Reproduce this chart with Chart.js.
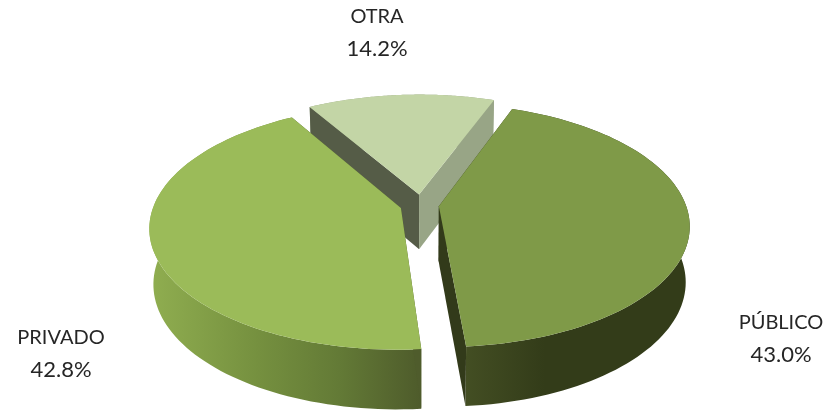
<!DOCTYPE html>
<html>
<head>
<meta charset="utf-8">
<style>
  html, body { margin: 0; padding: 0; background: #fff; }
  #wrap { position: relative; width: 837px; height: 410px; }
</style>
<script src="https://cdn.jsdelivr.net/npm/chart.js@4"></script>
</head>
<body>
<div id="wrap"><canvas id="pie"></canvas></div>
<script>
// Chart data
const categories = ['PÚBLICO', 'PRIVADO', 'OTRA'];
const shares = [43.0, 42.8, 14.2];

// Look of each slice, same order as categories
const topColors = ['#7f9a48', '#9bbb59', '#c3d5a6'];
const startFaceColors = ['#323a1a', '#4f5c2c', '#555c47'];
const endFaceColors = ['#323a1a', '#4f5c2c', '#98a586'];
const wallStops = [
    [[0, '#434e23'], [0.35, '#333c19'], [1, '#333c19']],
    [[0, '#90ae50'], [0.4, '#75903f'], [0.7, '#637a36'], [1, '#4e5b2b']],
    [[0, '#98a586'], [1, '#98a586']]
];
const explode = [18, 21, 22];
const labelSpots = [[781, 323], [61, 338], [377, 17]];

// Camera for the tilted pie
const view = { x0: 421, y0: 205, radius: 247, tilt: 0.48, distance: 1590 };
const depthFar = 30, depthNear = 25, bottomShrink = 0.985;

// Ground plane point to screen. lower=true gives the bottom edge of the pie
function project(X, Y, lower) {
    const w = 1 - Y / view.distance;
    let sx = view.x0 + X / w;
    let sy = view.y0 + view.tilt * Y / w;
    if (lower) {
        sx = view.x0 + (sx - view.x0) * bottomShrink;
        sy += depthFar + depthNear / w;
    }
    return [sx, sy];
}

function rimPoints(arc, center, lower) {
    const pts = [];
    const steps = 90;
    for (let i = 0; i <= steps; i++) {
        const a = arc.startAngle + (arc.endAngle - arc.startAngle) * i / steps;
        pts.push(project(center[0] + view.radius * Math.cos(a), center[1] + view.radius * Math.sin(a), lower));
    }
    return pts;
}

function fillShape(ctx, pts, fill) {
    ctx.beginPath();
    pts.forEach((p, i) => i ? ctx.lineTo(p[0], p[1]) : ctx.moveTo(p[0], p[1]));
    ctx.closePath();
    ctx.fillStyle = fill;
    ctx.fill();
}

const pie3d = {
    id: 'pie3d',
    beforeDatasetDraw(chart, args) {
        const ctx = chart.ctx;
        const arcs = args.meta.data;
        // back slice first, the two front slices cover it
        [2, 0, 1].forEach(i => {
            const arc = arcs[i];
            const mid = (arc.startAngle + arc.endAngle) / 2;
            const center = [explode[i] * Math.cos(mid), explode[i] * Math.sin(mid)];
            const topRim = rimPoints(arc, center, false);
            const lowRim = rimPoints(arc, center, true);
            const apex = project(center[0], center[1], false);
            const apexLow = project(center[0], center[1], true);

            // outer wall, shaded left to right
            const xs = topRim.map(p => p[0]);
            const grad = ctx.createLinearGradient(Math.min(...xs), 0, Math.max(...xs), 0);
            wallStops[i].forEach(s => grad.addColorStop(s[0], s[1]));
            fillShape(ctx, topRim.concat(lowRim.slice().reverse()), grad);

            // cut faces
            fillShape(ctx, [apex, topRim[0], lowRim[0], apexLow], startFaceColors[i]);
            fillShape(ctx, [apex, topRim[topRim.length - 1], lowRim[lowRim.length - 1], apexLow], endFaceColors[i]);

            // top of the slice
            fillShape(ctx, [apex].concat(topRim), topColors[i]);
        });
        return false;
    },
    afterDraw(chart) {
        const ctx = chart.ctx;
        ctx.save();
        ctx.fillStyle = '#262626';
        ctx.textAlign = 'center';
        ctx.textBaseline = 'middle';
        categories.forEach((name, i) => {
            ctx.font = '20px Lato';
            ctx.fillText(name, labelSpots[i][0], labelSpots[i][1]);
            ctx.font = '22px Lato';
            ctx.fillText(shares[i].toFixed(1) + '%', labelSpots[i][0], labelSpots[i][1] + 32);
        });
        ctx.restore();
    }
};

new Chart(document.getElementById('pie'), {
    type: 'pie',
    data: {
        labels: categories,
        datasets: [{ data: shares, backgroundColor: topColors, borderWidth: 0 }]
    },
    options: {
        responsive: true,
        maintainAspectRatio: false,
        animation: false,
        rotation: 20.5,
        plugins: { legend: { display: false }, tooltip: { enabled: false } }
    },
    plugins: [pie3d]
});
</script>
</body>
</html>
